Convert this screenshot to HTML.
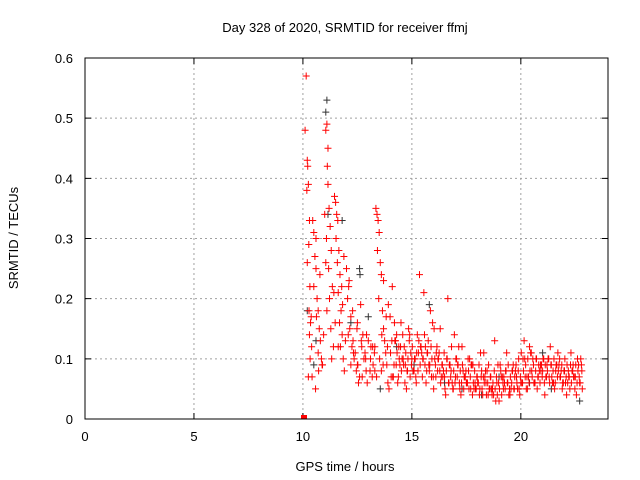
<!DOCTYPE html>
<html><head><meta charset="utf-8"><style>
html,body{margin:0;padding:0;background:#fff}
svg{display:block;font-family:"Liberation Sans",sans-serif}
</style></head><body>
<svg id="chart" width="640" height="480">
<text x="345" y="32" font-size="13" text-anchor="middle">Day 328 of 2020, SRMTID for receiver ffmj</text>
<text x="345" y="471" font-size="13" text-anchor="middle">GPS time / hours</text>
<text transform="translate(18,238) rotate(-90)" font-size="13" text-anchor="middle">SRMTID / TECUs</text>
<g id="grid"></g><g id="ticks"></g><g id="black"></g><g id="red"></g>
<rect x="85" y="58" width="523" height="361" fill="none" stroke="#000" stroke-width="1"/>
</svg>
<script>
const xTicks=[0,5,10,15,20];
const yTicks=[0,0.1,0.2,0.3,0.4,0.5,0.6];
const yTickLabels=["0","0.1","0.2","0.3","0.4","0.5","0.6"];
const redT=[10.1,10.15,10.2,10.22,10.25,10.18,10.3,10.27,10.2,10.32,10.28,10.35,10.3,10.4,10.33,10.25,10.38,10.45,10.5,10.55,10.6,10.5,10.65,10.7,10.62,10.75,10.8,10.7,10.85,10.9,10.95,10.6,10.78,
11.0,11.05,11.1,11.15,11.12,11.2,11.25,11.08,11.3,11.18,11.35,11.22,11.1,11.28,11.4,11.05,11.32,11.15,11.45,11.5,11.55,11.6,11.52,11.65,11.58,11.7,11.62,11.75,11.68,11.8,11.72,11.85,11.9,11.95,11.78,
12.0,12.1,12.05,12.2,12.15,12.3,12.25,12.4,12.35,12.5,12.45,12.6,12.55,12.7,12.65,12.8,12.75,12.9,12.85,12.95,12.2,12.5,
13.0,13.1,13.2,13.3,13.35,13.4,13.45,13.5,13.42,13.55,13.6,13.48,13.65,13.7,13.38,13.75,13.8,13.85,13.9,13.95,13.52,13.6,13.3,13.7,
14.0,14.1,14.2,14.3,14.4,14.5,14.6,14.7,14.8,14.9,14.15,14.35,14.55,14.75,14.95,14.25,14.45,14.65,14.85,14.05,
15.0,15.1,15.2,15.3,15.4,15.5,15.6,15.7,15.8,15.9,15.75,15.78,15.65,15.15,15.35,15.55,15.85,15.95,15.25,15.45,15.05,15.62,
16.0,16.1,16.2,16.3,16.4,16.5,16.6,16.7,16.8,16.9,16.15,16.35,16.55,16.75,16.95,16.25,16.45,16.65,16.85,16.05,
17.0,17.1,17.2,17.3,17.4,17.5,17.6,17.7,17.8,17.9,17.25,17.45,17.65,17.85,17.15,17.35,17.55,17.75,17.95,17.05,
18.0,18.1,18.2,18.3,18.4,18.5,18.6,18.7,18.8,18.9,18.25,18.45,18.65,18.85,18.15,18.35,18.55,18.75,18.95,18.05,
19.0,19.1,19.2,19.3,19.4,19.5,19.6,19.7,19.8,19.9,19.25,19.45,19.65,19.85,19.15,19.35,19.55,19.75,19.95,19.05,
20.0,20.1,20.2,20.3,20.4,20.5,20.6,20.7,20.8,20.9,20.25,20.45,20.65,20.85,20.15,20.35,20.55,20.75,20.95,20.05,
21.0,21.1,21.2,21.3,21.4,21.5,21.6,21.7,21.8,21.9,21.25,21.45,21.65,21.85,21.15,21.35,21.55,21.75,21.95,21.05,
22.0,22.1,22.2,22.3,22.4,22.5,22.6,22.7,22.8,22.25,22.45,22.65,22.15,22.35,22.55,22.75,22.05,
10.42,10.58,10.72,10.88,11.42,11.48,11.62,11.82,11.88,12.08,12.12,12.28,12.32,12.48,12.52,12.68,12.72,12.88,12.92,13.08,13.12,13.18,13.22,13.28,13.62,13.68,13.82,13.88,13.92,
14.02,14.08,14.12,14.18,14.22,14.28,14.32,14.38,14.42,14.48,14.52,14.58,14.62,14.68,14.72,14.78,14.82,14.88,14.92,14.98,
15.02,15.08,15.12,15.18,15.22,15.28,15.32,15.38,15.42,15.48,15.52,15.58,15.68,15.72,15.82,15.88,15.92,15.98,
16.02,16.08,16.12,16.18,16.22,16.28,16.32,16.38,16.42,16.48,16.52,16.58,16.62,16.68,16.72,16.78,16.82,16.88,16.92,16.98,
17.02,17.08,17.12,17.18,17.22,17.28,17.32,17.38,17.42,17.48,17.52,17.58,17.62,17.68,17.72,17.78,17.82,17.88,17.92,17.98,
18.02,18.08,18.12,18.18,18.22,18.28,18.32,18.38,18.42,18.48,18.52,18.58,18.62,18.68,18.72,18.78,18.82,18.88,18.92,18.98,
19.02,19.08,19.12,19.18,19.22,19.28,19.32,19.38,19.42,19.48,19.52,19.58,19.62,19.68,19.72,19.78,19.82,19.88,19.92,19.98,
20.02,20.08,20.12,20.18,20.22,20.28,20.32,20.38,20.42,20.48,20.52,20.58,20.62,20.68,20.72,20.78,20.82,20.88,20.92,20.98,
21.02,21.08,21.12,21.18,21.22,21.28,21.32,21.38,21.42,21.48,21.52,21.58,21.62,21.68,21.72,21.78,21.82,21.88,21.92,21.98,
22.02,22.08,22.12,22.18,22.22,22.28,22.32,22.38,22.42,22.48,22.52,22.58,22.62,22.68,22.72,22.78,22.82];
const redV=[0.48,0.57,0.43,0.42,0.39,0.38,0.33,0.29,0.26,0.22,0.18,0.16,0.14,0.12,0.10,0.07,0.17,0.33,0.31,0.27,0.25,0.22,0.20,0.18,0.17,0.15,0.13,0.11,0.10,0.09,0.14,0.30,0.24,
0.34,0.48,0.49,0.45,0.42,0.35,0.32,0.30,0.28,0.25,0.22,0.20,0.18,0.15,0.12,0.26,0.10,0.39,0.37,0.36,0.34,0.33,0.30,0.28,0.26,0.24,0.21,0.18,0.16,0.14,0.12,0.10,0.08,0.13,0.22,
0.25,0.22,0.20,0.17,0.15,0.13,0.12,0.11,0.10,0.09,0.08,0.07,0.06,0.12,0.19,0.10,0.14,0.08,0.11,0.06,0.09,0.16,
0.13,0.10,0.12,0.08,0.35,0.34,0.33,0.31,0.28,0.26,0.24,0.20,0.18,0.15,0.07,0.13,0.11,0.09,0.06,0.05,0.10,0.08,0.12,0.23,0.17,0.22,0.16,0.14,
0.12,0.16,0.10,0.09,0.08,0.14,0.07,0.06,0.10,0.05,0.11,0.13,0.09,0.12,0.15,0.07,0.10,0.08,0.06,0.11,
0.12,0.10,0.09,0.11,0.08,0.07,0.13,0.09,0.06,0.10,0.24,0.21,0.18,0.16,0.14,0.11,0.08,0.12,0.05,0.07,0.10,0.15,
0.09,0.07,0.10,0.06,0.08,0.05,0.12,0.07,0.04,0.09,0.14,0.11,0.08,0.20,0.06,0.10,0.07,0.09,0.05,0.12,
0.07,0.06,0.08,0.05,0.09,0.06,0.04,0.07,0.10,0.05,0.12,0.08,0.06,0.09,0.05,0.10,0.07,0.04,0.08,0.11,
0.06,0.04,0.07,0.05,0.13,0.06,0.04,0.08,0.05,0.03,0.11,0.07,0.05,0.04,0.09,0.06,0.03,0.07,0.05,0.08,
0.06,0.04,0.08,0.05,0.07,0.10,0.06,0.04,0.09,0.05,0.07,0.11,0.05,0.08,0.04,0.09,0.06,0.10,0.07,0.05,
0.12,0.08,0.06,0.10,0.07,0.09,0.05,0.11,0.06,0.08,0.13,0.07,0.10,0.05,0.09,0.06,0.08,0.04,0.09,0.07,
0.09,0.06,0.08,0.11,0.07,0.05,0.10,0.06,0.09,0.08,0.07,0.12,0.05,0.09,0.06,0.10,0.08,0.04,0.07,0.11,
0.09,0.07,0.10,0.06,0.08,0.05,0.07,0.09,0.06,0.08,0.04,0.10,0.06,0.07,0.05,0.08,0.09,
0.21,0.16,0.12,0.19,0.27,0.14,0.23,0.18,0.11,0.15,0.09,0.13,0.07,0.10,0.14,0.08,0.12,0.07,0.09,0.11,0.14,0.09,0.17,0.12,0.19,0.11,0.13,0.07,0.09,
0.13,0.09,0.11,0.07,0.10,0.12,0.08,0.14,0.09,0.06,0.11,0.08,0.10,0.13,0.07,0.09,0.12,0.08,0.10,0.07,
0.11,0.08,0.13,0.09,0.12,0.07,0.10,0.14,0.08,0.11,0.09,0.12,0.10,0.07,0.15,0.09,0.11,0.08,
0.10,0.08,0.06,0.09,0.07,0.11,0.05,0.08,0.10,0.06,0.09,0.07,0.12,0.05,0.08,0.06,0.10,0.07,0.09,0.06,
0.08,0.06,0.09,0.05,0.07,0.08,0.06,0.10,0.05,0.07,0.09,0.04,0.06,0.08,0.05,0.07,0.06,0.09,0.05,0.07,
0.05,0.07,0.06,0.08,0.04,0.06,0.09,0.05,0.07,0.04,0.06,0.08,0.05,0.07,0.04,0.06,0.05,0.08,0.04,0.06,
0.07,0.05,0.08,0.06,0.09,0.05,0.07,0.06,0.08,0.05,0.07,0.09,0.06,0.08,0.05,0.07,0.11,0.06,0.08,0.10,
0.09,0.07,0.10,0.06,0.08,0.11,0.07,0.09,0.06,0.08,0.10,0.07,0.09,0.06,0.08,0.07,0.10,0.06,0.09,0.07,
0.08,0.10,0.06,0.09,0.07,0.08,0.10,0.06,0.09,0.07,0.08,0.10,0.07,0.09,0.06,0.08,0.10,0.07,0.09,0.08,
0.07,0.09,0.06,0.08,0.07,0.05,0.09,0.06,0.08,0.07,0.06,0.09,0.05,0.08,0.07,0.06,0.08];
const blackT=[10.2,10.5,11.1,11.05,11.15,11.8,12.6,12.62,13.0,13.55,14.3,15.1,15.8,16.5,17.3,18.2,19.0,20.4,21.0,21.4,22.0,22.7,10.6,12.2];
const blackV=[0.18,0.09,0.53,0.51,0.34,0.33,0.25,0.24,0.17,0.05,0.12,0.09,0.19,0.06,0.05,0.04,0.07,0.06,0.11,0.05,0.08,0.03,0.13,0.16];
const X0=85,X1=608,Y0=419,Y1=58,XMAX=24,YMAX=0.6;
const sx=t=>X0+(X1-X0)*t/XMAX, sy=v=>Y0-(Y0-Y1)*v/YMAX;
const NS="http://www.w3.org/2000/svg";
function mk(tag,parent,attrs){const e=document.createElementNS(NS,tag);for(const k in attrs)e.setAttribute(k,attrs[k]);parent.appendChild(e);return e;}
const grid=document.getElementById('grid'),ticks=document.getElementById('ticks');
xTicks.forEach(t=>{const x=sx(t);
 if(t>0){const g=mk('line',grid,{x1:x,x2:x,y1:Y1,y2:Y0,stroke:'#a0a0a0','stroke-dasharray':'2,3'});
 
 }
 const tk=mk('path',ticks,{d:`M${x},${Y0}v-6M${x},${Y1}v6`,stroke:'#000'});
 
 
 const l=mk('text',ticks,{x:x,y:Y0+22,'font-size':13,'text-anchor':'middle'});l.textContent=t;
 
 });
yTicks.forEach((v,i)=>{const y=sy(v);
 if(v>0&&v<YMAX){const g=mk('line',grid,{x1:X0,x2:X1,y1:y,y2:y,stroke:'#a0a0a0','stroke-dasharray':'2,3'});
 
 }
 const tk=mk('path',ticks,{d:`M${X0},${y}h6M${X1},${y}h-6`,stroke:'#000'});
 
 
 const l=mk('text',ticks,{x:X0-12,y:y+5,'font-size':13,'text-anchor':'end'});l.textContent=yTickLabels[i];
 
 });
function plus(g,t,v,c,name){const x=sx(t),y=sy(v);
 const p=mk('path',g,{d:`M${x-3.5},${y}h7M${x},${y-3.5}v7`,stroke:c,'stroke-width':1});
 
 }
const bg=document.getElementById('black'),rg=document.getElementById('red');
blackT.forEach((t,i)=>plus(bg,t,blackV[i],'#333','black-point'));
redT.forEach((t,i)=>plus(rg,t,redV[i],'#ff0000','red-point'));
const m=mk('rect',rg,{x:sx(10.05)-3,y:Y0-4,width:6,height:4,fill:'#ff0000'});


</script>
</body></html>
